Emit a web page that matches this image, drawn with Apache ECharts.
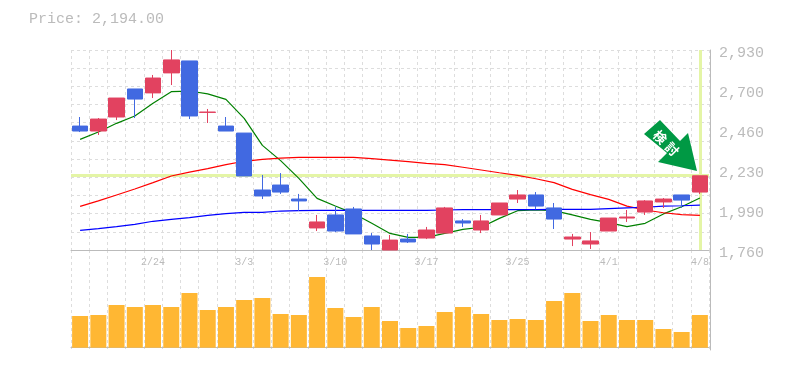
<!DOCTYPE html>
<html>
<head>
<meta charset="utf-8">
<style>html,body{margin:0;padding:0;background:#fff}#c{width:785px;height:370px}</style>
<script src="https://cdn.jsdelivr.net/npm/echarts@6/dist/echarts.min.js"></script>
</head>
<body>
<div id="c"></div>
<script>
const dates = ['2/18','2/19','2/20','2/21','2/24','2/25','2/26','2/27','2/28','3/3','3/4','3/5','3/6','3/7','3/10','3/11','3/12','3/13','3/14','3/17','3/18','3/19','3/21','3/24','3/25','3/26','3/27','3/28','3/31','4/1','4/2','4/3','4/4','4/7','4/8'];
const shownDates = ['2/24','3/3','3/10','3/17','3/25','4/1','4/8'];
const opens  = [2485,2456,2538,2702,2679,2796,2866,2565,2485,2444,2111,2140,2058,1889,1965,2000,1842,1760,1824,1830,1859,1930,1877,1965,2058,2082,2006,1824,1795,1871,1947,1982,2041,2082,2099];
const closes = [2456,2526,2649,2643,2766,2872,2544,2567,2456,2193,2076,2099,2047,1924,1871,1854,1795,1818,1807,1877,2006,1918,1930,2035,2082,2017,1941,1836,1813,1947,1953,2047,2058,2052,2194];
const lows   = [2450,2433,2520,2532,2649,2725,2526,2503,2456,2193,2058,2088,1988,1871,1865,1854,1760,1760,1801,1824,1859,1895,1859,1965,2035,1998,1883,1783,1766,1871,1924,1965,2006,2006,2088];
const highs  = [2538,2532,2649,2702,2784,2930,2866,2585,2538,2444,2199,2210,2088,1965,2013,2012,1859,1848,1854,1895,2012,1941,1965,2035,2111,2099,2035,1854,1865,1947,1994,2052,2064,2082,2194];
const maShort = [2407,2450,2501,2544,2618,2686,2690,2673,2641,2530,2372,2283,2179,2062,2017,1974,1916,1857,1834,1834,1857,1881,1893,1945,1990,1994,1990,1965,1939,1920,1897,1916,1971,2013,2064];
const maMid   = [2015,2047,2082,2117,2154,2193,2216,2236,2259,2279,2290,2298,2302,2302,2302,2302,2294,2286,2277,2267,2259,2244,2228,2212,2197,2177,2154,2115,2084,2056,2017,1994,1978,1967,1963];
const maLong  = [1875,1885,1897,1910,1928,1939,1949,1963,1973,1980,1980,1988,1990,1992,1992,1992,1992,1992,1992,1992,1994,1996,1996,1996,1996,1996,1998,1998,1998,2002,2006,2010,2017,2019,2023];
const volumes = [317,327,427,407,427,407,547,377,407,477,497,337,327,707,397,307,407,267,197,217,357,407,337,277,287,277,467,547,267,327,277,277,187,157,327];
const priceTicks = [1760,1994,2228,2462,2696,2930];
const priceTitle = 'Price: 2,194.00';

const MONO = '"Liberation Mono", monospace';
const GRAY = '#bbbbbb';
const RED = '#e24260', BLUE = '#4169e1', HILITE = '#e4f5a6';
const dashed = {show:true, lineStyle:{color:'#dddddd', type:[3,3], width:1}};
const fmtPrice = v => { const r = Math.round(v/10)*10; return String(r).replace(/(\d)(\d{3})$/, '$1,$2'); };

const chart = echarts.init(document.getElementById('c'), null, {renderer:'canvas'});
chart.setOption({
  animation:false,
  backgroundColor:'#fff',
  title:{text:priceTitle,left:24,top:7,textStyle:{fontFamily:MONO,fontSize:15,fontWeight:'normal',color:GRAY}},
  grid:[
    {left:71,right:76,top:50,height:200},
    {left:71,right:76,top:250,height:100}
  ],
  xAxis:[
    {type:'category',gridIndex:0,data:dates,boundaryGap:true,
      axisLine:{show:true,onZero:false,lineStyle:{color:GRAY,width:1}},axisTick:{show:false},
      splitLine:Object.assign({interval:0},dashed),
      axisLabel:{show:true,interval:(i,v)=>shownDates.includes(v),fontFamily:MONO,fontSize:10,color:GRAY,margin:7,hideOverlap:false}},
    {type:'category',gridIndex:1,data:dates,boundaryGap:true,
      axisLine:{show:true,lineStyle:{color:GRAY,width:1}},axisTick:{show:false},
      splitLine:Object.assign({interval:0},dashed),axisLabel:{show:false}}
  ],
  yAxis:[
    {type:'value',gridIndex:0,position:'right',offset:1,min:1760,max:2930,
      axisLine:{show:true,lineStyle:{color:GRAY,width:1}},axisTick:{show:false},splitLine:{show:false},
      axisLabel:{show:true,customValues:priceTicks,formatter:fmtPrice,fontFamily:MONO,fontSize:15,color:GRAY,margin:9,verticalAlign:'top',lineHeight:6,showMinLabel:true,showMaxLabel:true}},
    {type:'value',gridIndex:0,position:'left',min:0,max:11,interval:1,
      axisLine:{show:false},axisTick:{show:false},axisLabel:{show:false},splitLine:dashed},
    {type:'value',gridIndex:1,position:'right',offset:1,min:-23,max:977,
      axisLine:{show:true,lineStyle:{color:GRAY,width:1}},axisTick:{show:false},axisLabel:{show:false},splitLine:{show:false}}
  ],
  series:[
    {type:'line',xAxisIndex:0,yAxisIndex:0,data:[],z:1,silent:true,symbol:'none',
      markLine:{silent:true,symbol:'none',animation:false,label:{show:false},z:1,
        lineStyle:{color:HILITE,width:3,type:'solid'},
        data:[{yAxis:2199},{xAxis:dates[dates.length-1]}]}},
    {name:'short',type:'line',xAxisIndex:0,yAxisIndex:0,data:maShort,symbol:'none',z:2,lineStyle:{color:'#008000',width:1.2}},
    {name:'mid',type:'line',xAxisIndex:0,yAxisIndex:0,data:maMid,symbol:'none',z:2,lineStyle:{color:'#ff0000',width:1.2}},
    {name:'long',type:'line',xAxisIndex:0,yAxisIndex:0,data:maLong,symbol:'none',z:2,lineStyle:{color:'#0000ff',width:1.2}},
    {name:'price',type:'candlestick',xAxisIndex:0,yAxisIndex:0,z:3,barWidth:16,
      data:dates.map((d,i)=>[opens[i],closes[i],lows[i],highs[i]]),
      itemStyle:{color:RED,color0:BLUE,borderColor:RED,borderColor0:BLUE,borderWidth:1}},
    {name:'volume',type:'bar',xAxisIndex:1,yAxisIndex:2,data:volumes,barWidth:16,z:2,itemStyle:{color:'#ffb733'}}
  ],
  graphic:[
    {type:'polygon',z:50,shape:{points:[[660,120],[680,141],[688,133],[697,171],[658,162],[667,153],[644,134]]},style:{fill:'#009944'}},
    {type:'text',z:51,x:660,y:137,rotation:-Math.PI/4,
      style:{text:'検',fill:'#fff',font:'bold 13px "Noto Sans CJK JP"',textAlign:'center',textVerticalAlign:'middle'}},
    {type:'text',z:51,x:672,y:149,rotation:-Math.PI/4,
      style:{text:'討',fill:'#fff',font:'bold 13px "Noto Sans CJK JP"',textAlign:'center',textVerticalAlign:'middle'}}
  ]
});
</script>
</body>
</html>
